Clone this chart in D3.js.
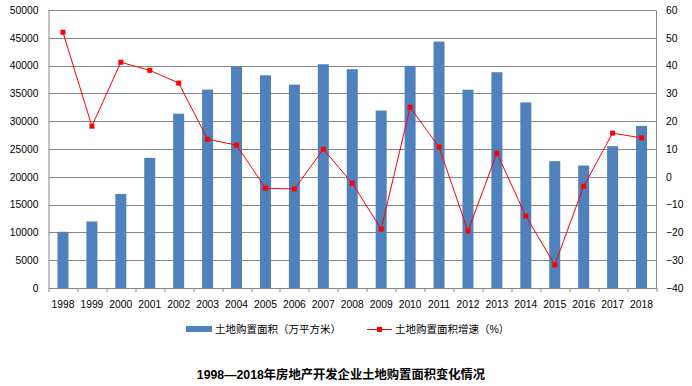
<!DOCTYPE html>
<html>
<head>
<meta charset="utf-8">
<script src="https://cdn.jsdelivr.net/npm/d3@7"></script>
<style>
  body { margin: 0; background: #fff; }
  svg text { font-family: "Liberation Sans", "Noto Sans CJK SC", sans-serif; }
</style>
</head>
<body>
<div id="chart"></div>
<script>
// years and the two series
const years = ["1998","1999","2000","2001","2002","2003","2004","2005","2006","2007","2008",
  "2009","2010","2011","2012","2013","2014","2015","2016","2017","2018"]
const area = [10109, 11959, 16905, 23409, 31357, 35690, 39785, 38254, 36574, 40246, 39353,
  31910, 39953, 44327, 35667, 38814, 33383, 22811, 22025, 25508, 29142]
const growth = [52.0, 18.2, 41.2, 38.3, 33.7, 13.5, 11.4, -4.1, -4.4, 9.9, -2.3,
  -18.8, 25.0, 10.7, -19.5, 8.5, -14.1, -31.7, -3.4, 15.7, 14.0]
const leftTicks = [0, 5000, 10000, 15000, 20000, 25000, 30000, 35000, 40000, 45000, 50000]
const rightTicks = [-40, -30, -20, -10, 0, 10, 20, 30, 40, 50, 60]
const legendNames = ["土地购置面积（万平方米）", "土地购置面积增速（%）"]
const title = "1998—2018年房地产开发企业土地购置面积变化情况"

const W = 692, H = 386
const margin = {top: 10, right: 36, bottom: 98, left: 48.5}
const width = W - margin.left - margin.right,
  height = H - margin.top - margin.bottom

const grey = "#868686"
const blue = "#4F81BD"
const red = "#FF0000"

const svg = d3.select("#chart").append("svg")
    .attr("width", W)
    .attr("height", H)

const g = svg.append("g")
    .attr("transform", "translate(" + margin.left + "," + margin.top + ")")

const x = d3.scaleBand().domain(years).range([0, width])
const yL = d3.scaleLinear().domain([0, 50000]).range([height, 0])
const yR = d3.scaleLinear().domain([-40, 60]).range([height, 0])

// gridlines
g.append("g").selectAll("line")
  .data(leftTicks.filter(d => d > 0))
  .enter().append("line")
    .attr("x1", 0).attr("x2", width)
    .attr("y1", d => Math.round(yL(d)) + 0.5)
    .attr("y2", d => Math.round(yL(d)) + 0.5)
    .attr("stroke", grey)

// bars
const bw = 11
g.append("g").selectAll("rect")
  .data(area)
  .enter().append("rect")
    .attr("x", (d, i) => x(years[i]) + x.bandwidth() / 2 - bw / 2)
    .attr("y", d => yL(d))
    .attr("width", bw)
    .attr("height", d => height - yL(d))
    .attr("fill", blue)

// axes
const leftAxis = g.append("g")
  .call(d3.axisLeft(yL).tickValues(leftTicks).tickSize(0).tickPadding(10).tickFormat(d3.format("d")))
const rightAxis = g.append("g")
  .attr("transform", "translate(" + width + ",0)")
  .call(d3.axisRight(yR).tickValues(rightTicks).tickSize(0).tickPadding(10))
const bottomAxis = g.append("g")
  .attr("transform", "translate(0," + height + ")")
  .call(d3.axisBottom(x).tickSize(0).tickPadding(13))

;[leftAxis, rightAxis, bottomAxis].forEach(a => {
  a.select(".domain").attr("stroke", grey)
  a.selectAll("text").attr("font-size", 10.3).attr("fill", "#000")
    .style("font-family", "'Liberation Sans', sans-serif")
})

// category tick marks between bars
g.append("g").selectAll("line")
  .data(d3.range(years.length + 1))
  .enter().append("line")
    .attr("x1", i => Math.round(i * x.step()) + 0.5)
    .attr("x2", i => Math.round(i * x.step()) + 0.5)
    .attr("y1", height)
    .attr("y2", height + 4)
    .attr("stroke", grey)

// growth line
const line = d3.line()
  .x((d, i) => x(years[i]) + x.bandwidth() / 2)
  .y(d => yR(d))

g.append("path")
  .datum(growth)
  .attr("d", line)
  .attr("fill", "none")
  .attr("stroke", red)
  .attr("stroke-width", 1)

g.append("g").selectAll("rect")
  .data(growth)
  .enter().append("rect")
    .attr("x", (d, i) => x(years[i]) + x.bandwidth() / 2 - 2.5)
    .attr("y", d => yR(d) - 2.5)
    .attr("width", 5)
    .attr("height", 5)
    .attr("fill", red)

// legend
const leg = svg.append("g").attr("transform", "translate(0,329)")
leg.append("rect")
  .attr("x", 186).attr("y", -3).attr("width", 26).attr("height", 6)
  .attr("fill", blue)
leg.append("text")
  .attr("x", 215).attr("y", 4)
  .attr("font-size", 10.5)
  .text(legendNames[0])
leg.append("line")
  .attr("x1", 367).attr("x2", 392).attr("y1", 0.5).attr("y2", 0.5)
  .attr("stroke", red)
leg.append("rect")
  .attr("x", 377).attr("y", -2).attr("width", 5).attr("height", 5)
  .attr("fill", red)
leg.append("text")
  .attr("x", 395).attr("y", 4)
  .attr("font-size", 10.5)
  .text(legendNames[1])

// title
svg.append("text")
  .attr("x", 341).attr("y", 379)
  .attr("text-anchor", "middle")
  .attr("font-size", 12.3)
  .attr("font-weight", "bold")
  .text(title)
</script>
</body>
</html>
